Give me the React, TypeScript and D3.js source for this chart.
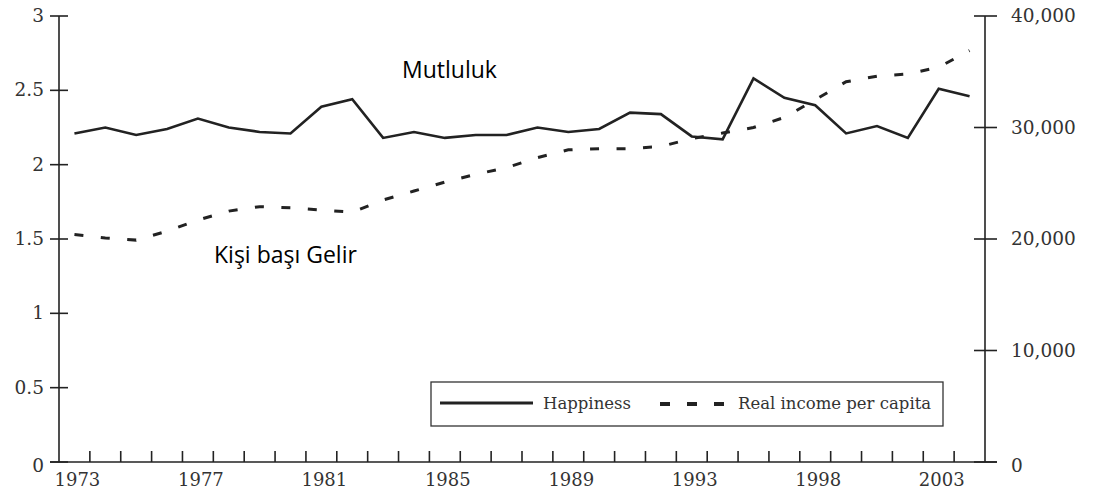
import { useEffect, useRef } from "react";
import * as d3 from "d3";

// survey years (gaps after 1994 and 1998 in the original series)
const years = [
  1973, 1974, 1975, 1976, 1977, 1978, 1979, 1980, 1981, 1982, 1983, 1984, 1985,
  1986, 1987, 1988, 1989, 1990, 1991, 1992, 1993, 1994, 1996, 1997, 1998, 2000,
  2001, 2002, 2003, 2004
];
const labelYears = [1973, 1977, 1981, 1985, 1989, 1993, 1998, 2003];

const happiness = [
  2.21, 2.25, 2.2, 2.24, 2.31, 2.25, 2.22, 2.21, 2.39, 2.44, 2.18, 2.22, 2.18,
  2.2, 2.2, 2.25, 2.22, 2.24, 2.35, 2.34, 2.19, 2.17, 2.58, 2.45, 2.4, 2.21,
  2.26, 2.18, 2.51, 2.46
];
const income = [
  20400, 20100, 19900, 20700, 21700, 22500, 22900, 22800, 22600, 22400, 23500,
  24300, 25100, 25800, 26400, 27300, 28000, 28100, 28100, 28300, 29000, 29500,
  30000, 30900, 32500, 34100, 34600, 34800, 35400, 36900
];

const leftTicks = [0, 0.5, 1, 1.5, 2, 2.5, 3];
const rightTicks = [0, 10000, 20000, 30000, 40000];

export default function App() {
  const ref = useRef<SVGSVGElement>(null);

  useEffect(() => {
    const svg = d3.select(ref.current);
    svg.selectAll("*").remove();

    const width = 1097;
    const height = 503;
    const left = 59;
    const right = 985;
    const top = 16;
    const bottom = 462;
    const ink = "#222";
    const textInk = "#333";
    const serif = "'DejaVu Serif', serif";

    svg.attr("width", width).attr("height", height);

    const x = d3.scaleBand<number>().domain(years).range([left, right]).padding(0);
    const cx = (yr: number) => (x(yr) as number) + x.bandwidth() / 2;
    const yL = d3.scaleLinear().domain([0, 3]).range([bottom, top]);
    const yR = d3.scaleLinear().domain([0, 40000]).range([bottom, top]);

    // axes lines
    svg.append("line")
      .attr("x1", left).attr("x2", left).attr("y1", top).attr("y2", bottom)
      .attr("stroke", ink).attr("stroke-width", 1.6);
    svg.append("line")
      .attr("x1", right).attr("x2", right).attr("y1", top).attr("y2", bottom)
      .attr("stroke", ink).attr("stroke-width", 1.6);
    svg.append("line")
      .attr("x1", left - 9).attr("x2", right + 12).attr("y1", bottom).attr("y2", bottom)
      .attr("stroke", ink).attr("stroke-width", 1.6);

    // left ticks
    leftTicks.forEach(t => {
      svg.append("line")
        .attr("x1", left - 9).attr("x2", left + 9)
        .attr("y1", yL(t)).attr("y2", yL(t))
        .attr("stroke", ink).attr("stroke-width", 1.6);
      svg.append("text")
        .attr("x", 44).attr("y", yL(t) + (t === 0 ? 5 : 1))
        .attr("text-anchor", "end").attr("dominant-baseline", "middle")
        .attr("font-family", serif).attr("font-size", 18.5)
        .attr("fill", textInk)
        .text(d3.format("")(t));
    });

    // right ticks
    rightTicks.forEach(t => {
      svg.append("line")
        .attr("x1", right - 11).attr("x2", right + 12)
        .attr("y1", yR(t)).attr("y2", yR(t))
        .attr("stroke", ink).attr("stroke-width", 1.6);
      svg.append("text")
        .attr("x", 1011).attr("y", yR(t) + (t === 0 ? 5 : 1))
        .attr("text-anchor", "start").attr("dominant-baseline", "middle")
        .attr("font-family", serif).attr("font-size", 18.5)
        .attr("fill", textInk)
        .text(d3.format(",")(t));
    });

    // bottom ticks at band boundaries
    years.slice(1).forEach(yr => {
      const xx = x(yr) as number;
      svg.append("line")
        .attr("x1", xx).attr("x2", xx).attr("y1", bottom).attr("y2", bottom - 11)
        .attr("stroke", ink).attr("stroke-width", 1.6);
    });
    labelYears.forEach(yr => {
      svg.append("text")
        .attr("x", cx(yr) + 3).attr("y", 486)
        .attr("text-anchor", "middle")
        .attr("font-family", serif).attr("font-size", 18)
        .attr("fill", textInk)
        .text(yr);
    });

    // lines
    const happyLine = d3.line<number>()
      .x((_, i) => cx(years[i]))
      .y(d => yL(d));
    const incomeLine = d3.line<number>()
      .x((_, i) => cx(years[i]))
      .y(d => yR(d));

    svg.append("path")
      .datum(income)
      .attr("d", incomeLine)
      .attr("fill", "none")
      .attr("stroke", ink)
      .attr("stroke-width", 3)
      .attr("stroke-dasharray", "9,17.5");

    svg.append("path")
      .datum(happiness)
      .attr("d", happyLine)
      .attr("fill", "none")
      .attr("stroke", ink)
      .attr("stroke-width", 2.6);

    // legend
    svg.append("rect")
      .attr("x", 431).attr("y", 382).attr("width", 512).attr("height", 44)
      .attr("fill", "#fff").attr("stroke", "#333").attr("stroke-width", 1.3);
    svg.append("line")
      .attr("x1", 440).attr("x2", 533).attr("y1", 403).attr("y2", 403)
      .attr("stroke", ink).attr("stroke-width", 3);
    svg.append("text")
      .attr("x", 543).attr("y", 409)
      .attr("font-family", serif).attr("font-size", 16.5)
      .attr("fill", textInk)
      .text("Happiness");
    svg.append("line")
      .attr("x1", 660).attr("x2", 726).attr("y1", 404).attr("y2", 404)
      .attr("stroke", ink).attr("stroke-width", 4)
      .attr("stroke-dasharray", "10,17");
    svg.append("text")
      .attr("x", 738).attr("y", 409)
      .attr("font-family", serif).attr("font-size", 16.5)
      .attr("fill", textInk)
      .text("Real income per capita");

    // annotations
    svg.append("text")
      .attr("x", 402).attr("y", 78)
      .attr("font-family", "'Open Sans', sans-serif").attr("font-size", 23)
      .attr("fill", "#000")
      .text("Mutluluk");
    svg.append("text")
      .attr("x", 214).attr("y", 263)
      .attr("font-family", "'Open Sans', sans-serif").attr("font-size", 23)
      .attr("fill", "#000")
      .text("Kişi başı Gelir");
  }, []);

  return (
    <svg
      ref={ref}
      style={{ position: "absolute", left: 0, top: 0, background: "#fff" }}
    ></svg>
  );
}
